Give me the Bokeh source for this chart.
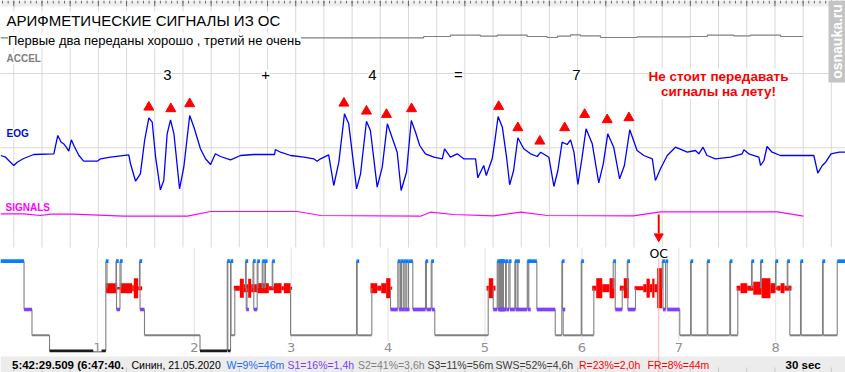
import numpy as np
from bokeh.plotting import figure
from bokeh.models import Range1d, Label
from bokeh.embed import file_html
from bokeh.resources import INLINE

# ---------------- data ----------------
# EOG trace of the 30-s epoch: time (s) and amplitude (arbitrary units, + up)
eog_t = [-0.47, -0.29, -0.18, 0.00, 0.12, 0.35, 0.71, 1.42, 1.56, 1.68,
         1.77, 1.86, 1.95, 2.04, 2.13, 2.31, 2.48, 2.96, 3.08, 3.43,
         4.08, 4.14, 4.32, 4.49, 4.64, 4.79, 4.91, 5.03, 5.20, 5.32,
         5.44, 5.56, 5.68, 5.88, 6.03, 6.24, 6.39, 6.62, 6.80, 6.98,
         7.15, 7.33, 7.69, 8.04, 8.51, 9.25, 9.28, 9.46, 9.82, 10.29,
         10.64, 10.76, 10.88, 11.17, 11.35, 11.53, 11.73, 11.88, 12.16, 12.30,
         12.51, 12.65, 12.89, 13.07, 13.25, 13.60, 13.74, 13.93, 14.10, 14.25,
         14.40, 14.60, 14.90, 15.20, 15.28, 15.49, 15.73, 15.96, 16.38, 16.46,
         16.67, 16.76, 16.97, 17.05, 17.18, 17.33, 17.48, 17.59, 17.73, 17.88,
         18.09, 18.33, 18.57, 18.69, 18.98, 19.16, 19.30, 19.45, 19.63, 19.75,
         19.87, 20.01, 20.16, 20.30, 20.52, 20.75, 20.91, 21.07, 21.28, 21.49,
         21.66, 21.85, 22.11, 22.35, 22.65, 22.76, 22.94, 23.18, 23.47, 23.89,
         24.18, 24.30, 24.45, 24.59, 24.89, 25.42, 25.84, 25.90, 26.07, 26.43,
         26.49, 26.61, 26.72, 26.90, 27.19, 28.02, 28.38, 28.52, 28.68, 28.80,
         28.99, 29.28, 29.50]
eog_v = [-7.7, -9.4, -12.7, -17.7, -14.4, -10.7, -6.7, -6.0, 12.3, 5.6,
         4.0, 0.6, -3.4, 8.0, 2.3, -7.7, -13.4, -13.4, -11.0, -9.4,
         -7.0, -16.0, -33.4, -26.0, 7.3, 30.0, 25.6, -9.4, -42.0, -32.7,
         14.0, 28.0, 14.0, -41.0, -19.4, 32.3, 20.6, -1.0, -11.0, -16.7,
         -6.0, -8.7, -12.0, -7.7, -6.7, -6.7, -1.7, -4.4, -7.7, -9.4,
         -11.0, -13.4, -11.0, -7.0, -37.7, -14.4, 34.0, 24.0, -41.0, -26.0,
         26.6, 17.3, -39.4, -19.4, 24.0, -4.4, -42.7, -24.4, 27.3, 15.6,
         2.3, -6.0, -9.4, -11.0, -1.0, -9.4, -6.0, -11.0, -11.0, -30.0,
         -17.7, -27.7, -11.0, 4.0, 31.3, 20.6, -9.4, -37.0, -22.7, 10.0,
         -1.0, -6.0, -8.7, -4.4, -9.4, -38.7, -22.7, 5.6, 3.3, 8.0,
         -4.4, -36.7, -9.4, 19.0, 4.0, -35.0, -16.0, 14.0, 0.6, -31.0,
         -17.7, 18.0, -2.7, -7.7, -11.0, -32.7, -21.0, -7.7, 0.6, -4.4,
         -2.7, -6.0, 0.6, -7.7, -11.0, -9.4, -6.0, -2.0, -6.0, -9.4,
         -17.7, -12.7, 1.3, -4.4, -7.7, -7.7, -7.7, -25.4, -17.7, -14.4,
         -6.0, -4.4, -4.4]

# red triangles marking the counted eye movements
peak_t = [4.79, 5.57, 6.24, 11.71, 12.51, 13.22, 14.11,
          17.20, 17.88, 18.66, 19.54, 20.25, 21.05, 21.82]
peak_v = [40.6, 39.0, 44.0, 44.6, 36.6, 33.3, 39.0,
          41.3, 20.0, 6.6, 20.0, 33.3, 28.0, 30.0]

# ACCEL channel (step values)
accel_t = [-0.47, 14.54, 15.49, 16.55, 17.15, 18.21, 18.92, 19.28, 19.75,
           20.10, 20.81, 22.11, 24.00, 24.60, 25.54, 26.13, 27.20, 28.00]
accel_v = [-0.3, 1.0, 2.3, 1.3, 2.3, 1.0, 0.0, 1.3, 2.7,
           1.7, 0.0, 0.7, 1.0, 2.3, 1.7, 2.3, 1.0, 1.0]

# SIGNALS channel
sig_t = [-0.47, 0.35, 0.95, 1.30, 2.12, 3.89, 6.16, 6.98, 10.06, 10.88,
         14.43, 14.78, 15.60, 17.02, 17.98, 18.93, 21.98, 22.94, 27.09, 28.01]
sig_v = [1.7, 1.7, 0.0, 1.3, 1.3, -0.7, -0.7, 4.0, 4.0, 0.0,
         -0.7, 3.3, 1.0, -0.3, 3.3, 0.0, -0.3, 3.7, 3.7, -0.7]

# "3 + 4 = 7" annotations (time in s)
eq_text = ["3", "+", "4", "=", "7"]
eq_t = [5.45, 8.93, 12.72, 15.77, 19.96]

# Hypnogram: stage changes (hours) and stage codes
hyp_t = [0.000, 0.243, 0.325, 0.506, 1.087, 1.099, 1.192, 1.197, 1.233, 1.244,
         1.434, 1.440, 1.486, 2.059, 2.340, 2.346, 2.374, 2.379, 2.418, 2.528,
         2.536, 2.544, 2.606, 2.614, 2.649, 2.657, 2.701, 2.709, 2.728, 2.735,
         2.804, 2.810, 2.993, 3.674, 3.681, 3.832, 4.025, 4.100, 4.113, 4.128,
         4.138, 4.156, 4.166, 4.183, 4.193, 4.211, 4.255, 4.386, 4.396, 4.445,
         4.453, 4.482, 5.033, 5.085, 5.126, 5.134, 5.143, 5.148, 5.153, 5.158,
         5.163, 5.168, 5.173, 5.179, 5.184, 5.191, 5.212, 5.220, 5.246, 5.258,
         5.308, 5.315, 5.332, 5.341, 5.436, 5.444, 5.452, 5.535, 5.725, 5.793,
         5.800, 5.807, 5.993, 5.999, 6.123, 6.323, 6.344, 6.416, 6.468, 6.474,
         6.553, 6.829, 6.837, 6.863, 6.880, 7.010, 7.121, 7.128, 7.293, 7.299,
         7.526, 7.534, 7.609, 7.750, 7.757, 7.843, 7.850, 7.998, 8.003, 8.119,
         8.125, 8.146, 8.256, 8.263, 8.483, 8.490, 8.635]
hyp_s = ["W", "S1", "S2", "S3", "W", "R", "W", "S1", "W", "R",
         "W", "S1", "S2", "S3", "W", "S3", "W", "S2", "R", "W",
         "S1", "R", "W", "S1", "W", "R", "W", "R", "W", "R",
         "W", "R", "S2", "W", "S2", "R", "S1", "W", "S1", "W",
         "S1", "W", "S1", "W", "S1", "W", "S1", "W", "S1", "W",
         "S1", "S2", "R", "S1", "W", "S1", "W", "S1", "W", "S1",
         "W", "S1", "W", "S1", "W", "S1", "W", "S1", "W", "S1",
         "W", "S1", "W", "S1", "W", "S1", "W", "S1", "S2", "W",
         "S1", "S2", "W", "S2", "R", "W", "S1", "R", "W", "S1",
         "R", "W", "S1", "W", "S1", "S2", "W", "S2", "W", "S2",
         "W", "S2", "R", "W", "R", "W", "R", "W", "R", "W",
         "R", "S2", "W", "S2", "W", "S2", "W"]
hyp_end = 8.720

# REM blocks: start/end (hours) and eye-movement density
rem_t0 = [1.087, 1.204, 1.238, 1.359, 1.376, 1.421,
          2.408, 2.470, 2.511, 2.556, 2.587, 2.649, 2.769, 2.821, 2.900, 2.924, 2.993,
          3.818, 3.888, 3.929, 3.980, 4.025,
          5.016, 5.039, 5.085,
          6.106, 6.148, 6.210, 6.285, 6.391, 6.432,
          6.543, 6.633, 6.667, 6.701, 6.726, 6.749, 6.777,
          7.596, 7.637, 7.706, 7.768, 7.854, 7.946, 7.998, 8.015, 8.050, 8.091]
rem_t1 = [1.204, 1.238, 1.359, 1.376, 1.421, 1.462,
          2.470, 2.511, 2.556, 2.587, 2.649, 2.769, 2.821, 2.900, 2.924, 2.993, 3.010,
          3.888, 3.929, 3.980, 4.025, 4.042,
          5.039, 5.085, 5.108,
          6.148, 6.210, 6.285, 6.336, 6.432, 6.484,
          6.633, 6.667, 6.701, 6.726, 6.749, 6.777, 6.829,
          7.637, 7.706, 7.768, 7.854, 7.946, 7.998, 8.015, 8.050, 8.091, 8.163]
rem_d = [1.0, 0.25, 1.0, 0.6, 2.0, 0.4,
         0.5, 1.9, 0.8, 1.9, 0.8, 1.0, 0.4, 1.0, 0.4, 1.0, 0.3,
         1.0, 0.5, 1.0, 2.0, 0.3,
         0.5, 2.0, 0.5,
         0.5, 2.0, 0.8, 2.0, 0.5, 2.0,
         0.4, 0.8, 1.9, 0.8, 1.9, 0.8, 4.0,
         0.5, 1.0, 0.5, 1.3, 2.0, 1.0, 0.3, 0.5, 1.0, 0.5]

hour_ticks = [1, 2, 3, 4, 5, 6, 7, 8]
oc_hour = 6.793

status_text = ["5:42:29.509 (6:47:40.", "Синин, 21.05.2020", "W=9%=46m", "S1=16%=1,4h",
               "S2=41%=3,6h", "S3=11%=56m", "SWS=52%=4,6h", "R=23%=2,0h", "FR=8%=44m", "30 sec"]

# ---------------- styling / layout ----------------
REF_W, REF_H = 845, 372
p = figure(width=REF_W, height=REF_H, x_range=Range1d(-0.472, 29.503), y_range=Range1d(REF_H, 0),
           output_backend="svg", toolbar_location=None, min_border=0,
           x_axis_location=None, y_axis_location=None,
           background_fill_color="white", border_fill_color="white", outline_line_color=None)
p.grid.visible = False
p.extra_x_ranges = {"px": Range1d(0, REF_W), "hours": Range1d(0, 8.7203)}
p.extra_y_ranges = {"eog": Range1d(147.3 - REF_H, 147.3),
                    "accel": Range1d(37.0 - REF_H, 37.0),
                    "sig": Range1d(215.0 - REF_H, 215.0)}

GRID = "#d9d9d9"
FONT = "Liberation Sans"


def label(x, y, text, size, color="black", bold=False, align="left", bg=None,
          xr="px", font=FONT, angle=0.0):
    lab = Label(x=x, y=y, text=text, text_font=font, text_font_size=f"{size}px",
                text_color=color, text_font_style="bold" if bold else "normal",
                text_align=align, text_baseline="middle", angle=angle)
    if xr != "default":
        lab.x_range_name = xr
    if bg is not None:
        lab.background_fill_color = bg
    p.add_layout(lab)


# top ruler
p.quad(left=[0], right=[REF_W], top=[0], bottom=[6], x_range_name="px",
       fill_color="#efefef", line_color=None)
minor = np.arange(-0.4, 29.5, 0.2)
major = np.arange(0, 30)
p.segment(x0=minor, y0=0, x1=minor, y1=3, line_color="#6a6a6a", line_width=1)
p.segment(x0=major, y0=0, x1=major, y1=6, line_color="#6a6a6a", line_width=1)

# grid of the epoch panel
p.segment(x0=major, y0=6, x1=major, y1=247, line_color=GRID, line_width=1)
p.segment(x0=[0, 0], y0=[73, 147.3], x1=[REF_W, REF_W], y1=[73, 147.3],
          x_range_name="px", line_color=GRID, line_width=1)

# channels
p.step(accel_t, accel_v, mode="after", y_range_name="accel", line_color="#808080", line_width=1.2)
p.line(sig_t, sig_v, y_range_name="sig", line_color="#ff00ff", line_width=1.2)
p.line(eog_t, eog_v, y_range_name="eog", line_color="#0000ff", line_width=1.3)
p.scatter(peak_t, peak_v, y_range_name="eog", marker="triangle", size=10,
          fill_color="#ff0000", line_color="#ff0000")

# hypnogram
LEVEL = {"W": 260.7, "R": 287.7, "S1": 309.0, "S2": 334.8, "S3": 350.3}
COLOR = {"W": "#0a7cff", "S1": "#7f40ff", "S2": "#808080", "S3": "#1c1c1c"}
THICK = {"W": 3.7, "S1": 3.7, "S2": 2.0, "S3": 2.8}
MIN_W = 0.028

p.segment(x0=hour_ticks, y0=247, x1=hour_ticks, y1=341, x_range_name="hours",
          line_color="#e2e2e2", line_width=1)

p.quad(left=rem_t0, right=rem_t1,
       top=[LEVEL["R"] - d * 5 for d in rem_d], bottom=[LEVEL["R"] + d * 5 for d in rem_d],
       x_range_name="hours", fill_color="#ff0000", line_color=None)

cx = hyp_t[1:]
cy0 = [LEVEL[s] for s in hyp_s[:-1]]
cy1 = [LEVEL[s] for s in hyp_s[1:]]
p.segment(x0=cx, y0=cy0, x1=cx, y1=cy1, x_range_name="hours", line_color="#808080", line_width=1.1)

ends = hyp_t[1:] + [hyp_end]
bl, br, bt, bb, bc = [], [], [], [], []
for t0, t1, s in zip(hyp_t, ends, hyp_s):
    if s == "R":
        continue
    bl.append(t0)
    br.append(max(t1, t0 + MIN_W))
    bt.append(LEVEL[s] - THICK[s] / 2)
    bb.append(LEVEL[s] + THICK[s] / 2)
    bc.append(COLOR[s])
p.quad(left=bl, right=br, top=bt, bottom=bb, x_range_name="hours", fill_color=bc, line_color=None)

for h in hour_ticks:
    label(h, 346.5, str(h), 13, color="#909090", align="center", bg="white",
          xr="hours", font="DejaVu Sans")

# OC marker
p.segment(x0=[oc_hour], y0=[258], x1=[oc_hour], y1=[372], x_range_name="hours",
          line_color="#ffb4b4", line_width=1)
p.segment(x0=[oc_hour], y0=[214], x1=[oc_hour], y1=[233], x_range_name="hours",
          line_color="#ff0000", line_width=2)
p.scatter([oc_hour], [236], x_range_name="hours", marker="inverted_triangle", size=9,
          fill_color="#ff0000", line_color="#ff0000")
label(oc_hour, 253, "ОС", 12.5, align="center", xr="hours", font="DejaVu Sans")

# status bar
p.quad(left=[0], right=[REF_W], top=[356], bottom=[372], x_range_name="px",
       fill_color="#ececec", line_color=None)
p.segment(x0=major, y0=367, x1=major, y1=372, line_color="#c8c8c8", line_width=1)
p.segment(x0=[oc_hour], y0=[356], x1=[oc_hour], y1=[372], x_range_name="hours",
          line_color="#ffb4b4", line_width=1)
status_x = [11.5, 131, 226, 287, 357.5, 427, 495, 578.5, 647, 785]
status_c = ["black", "black", "#1a6cff", "#7a3cff", "#808080", "#3a3a3a", "#3a3a3a",
            "#ff0000", "#ff0000", "black"]
status_b = [True, False, False, False, False, False, False, False, False, True]
for x, txt, c, b in zip(status_x, status_text, status_c, status_b):
    label(x, 364, txt, 11.5 if b else 10.5, color=c, bold=b,
          bg="#ececec" if x == 131 else None)

# titles and channel labels
label(6, 19.5, "АРИФМЕТИЧЕСКИЕ СИГНАЛЫ ИЗ ОС", 15, bg="white")
label(7.5, 39.5, "Первые два переданы хорошо , третий не очень", 13, bg="white")
label(6, 58, "ACCEL", 10, color="#808080", bold=True, bg="white")
label(6, 133, "EOG", 10, color="#0010d0", bold=True, bg="white")
label(5, 207, "SIGNALS", 10, color="#ff00ff", bold=True, bg="white")

for t, txt in zip(eq_t, eq_text):
    label(t, 74, txt, 15, align="center", bg="white", xr="default")

label(718, 75.5, "Не стоит передавать", 13.5, color="#ff0000", bold=True, align="center", bg="white")
label(718, 91, "сигналы на лету!", 13.5, color="#ff0000", bold=True, align="center", bg="white")

# watermark
p.quad(left=[828], right=[REF_W], top=[0], bottom=[82], x_range_name="px",
       fill_color="#c4c4c4", line_color=None)
label(836.5, 41, "osnauka.ru", 14, color="white", bold=True, align="center",
      angle=np.pi / 2)

open("out.html", "w").write(file_html(p, INLINE))
